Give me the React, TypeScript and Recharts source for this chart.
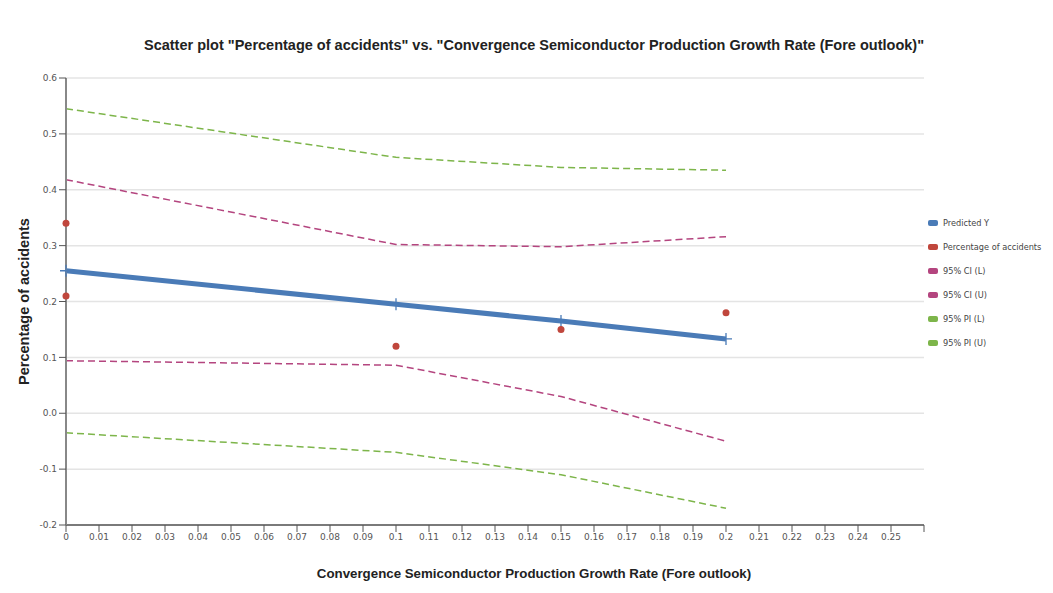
import {
  ComposedChart,
  CartesianGrid,
  Line,
  Scatter,
  XAxis,
  YAxis,
} from "recharts";

// values
const fitX = [0, 0.1, 0.15, 0.2];
const predictedY = [0.255, 0.195, 0.165, 0.133];
const ciLower = [0.094, 0.086, 0.03, -0.05];
const ciUpper = [0.418, 0.302, 0.298, 0.316];
const piLower = [-0.035, -0.07, -0.11, -0.17];
const piUpper = [0.545, 0.458, 0.44, 0.435];

const obsX = [0, 0, 0.1, 0.15, 0.2];
const obsY = [0.34, 0.21, 0.12, 0.15, 0.18];

const xTicks = [
  0, 0.01, 0.02, 0.03, 0.04, 0.05, 0.06, 0.07, 0.08, 0.09, 0.1, 0.11, 0.12,
  0.13, 0.14, 0.15, 0.16, 0.17, 0.18, 0.19, 0.2, 0.21, 0.22, 0.23, 0.24, 0.25,
  0.26,
];
const yTicks = [-0.2, -0.1, 0, 0.1, 0.2, 0.3, 0.4, 0.5, 0.6];

const BLUE = "#4a7bb7";
const RED = "#c0463c";
const CI = "#b4457f";
const PI = "#7db54a";

const toRows = (ys: number[]) => fitX.map((x, i) => ({ x, y: ys[i] }));
const obsRows = obsX.map((x, i) => ({ x, y: obsY[i] }));

const legendItems = [
  { label: "Predicted Y", color: BLUE },
  { label: "Percentage of accidents", color: RED },
  { label: "95% CI (L)", color: CI },
  { label: "95% CI (U)", color: CI },
  { label: "95% PI (L)", color: PI },
  { label: "95% PI (U)", color: PI },
];

const tickFont = {
  fontSize: 9,
  fill: "#555",
  fontFamily: "DejaVu Sans, Verdana, sans-serif",
};

const PlusDot = (props: any) => {
  const { cx, cy } = props;
  if (cx == null || cy == null) return null;
  return (
    <path
      d={`M${cx - 6},${cy}H${cx + 6}M${cx},${cy - 6}V${cy + 6}`}
      stroke={BLUE}
      strokeWidth={1.3}
      fill="none"
    />
  );
};

const LegendBox = () => (
  <div
    style={{
      position: "absolute",
      left: 928,
      top: 211,
      fontFamily: "DejaVu Sans, Verdana, sans-serif",
      fontSize: 8.2,
      color: "#444",
      whiteSpace: "nowrap",
    }}
  >
    {legendItems.map((it) => (
      <div key={it.label} style={{ display: "flex", alignItems: "center", height: 24 }}>
        <span
          style={{
            display: "inline-block",
            width: 10,
            height: 6,
            borderRadius: 2,
            background: it.color,
            marginRight: 5,
            flexShrink: 0,
          }}
        />
        {it.label}
      </div>
    ))}
  </div>
);

const dashed = (ys: number[], color: string) => (
  <Line
    data={toRows(ys)}
    dataKey="y"
    type="linear"
    stroke={color}
    strokeWidth={1.5}
    strokeDasharray="7 4"
    dot={false}
    isAnimationActive={false}
  />
);

export default function App() {
  return (
    <div style={{ position: "relative", margin: -8, width: 1053, height: 593, background: "#fff" }}>
      <div
        style={{
          position: "absolute",
          top: 37,
          left: 0,
          width: 1068,
          textAlign: "center",
          fontFamily: "Liberation Sans, Arial, sans-serif",
          fontWeight: "bold",
          fontSize: 14.5,
          color: "#222",
        }}
      >
        Scatter plot "Percentage of accidents" vs. "Convergence Semiconductor Production Growth Rate (Fore outlook)"
      </div>
      <ComposedChart
        width={1053}
        height={593}
        margin={{ top: 78, right: 129, bottom: 0, left: 0 }}
      >
        <CartesianGrid stroke="#e4e4e4" strokeWidth={1.5} vertical={false} />
        <XAxis
          type="number"
          dataKey="x"
          domain={[0, 0.26]}
          ticks={xTicks}
          interval={0}
          tick={tickFont}
          tickFormatter={(v: number) => (v === 0.26 ? "" : String(parseFloat(v.toFixed(2))))}
          tickLine={{ stroke: "#555" }}
          tickSize={7}
          axisLine={{ stroke: "#555", strokeWidth: 1.5 }}
          height={68}
          label={{
            value: "Convergence Semiconductor Production Growth Rate (Fore outlook)",
            position: "insideBottom",
            offset: 15,
            dx: 39,
            style: {
              fontFamily: "Liberation Sans, Arial, sans-serif",
              fontWeight: "bold",
              fontSize: 13.3,
              fill: "#222",
            },
          }}
        />
        <YAxis
          type="number"
          dataKey="y"
          domain={[-0.2, 0.6]}
          ticks={yTicks}
          interval={0}
          width={66}
          tick={tickFont}
          tickFormatter={(v: number) => v.toFixed(1)}
          tickLine={{ stroke: "#555" }}
          tickSize={7}
          axisLine={{ stroke: "#888", strokeWidth: 2 }}
          label={{
            value: "Percentage of accidents",
            angle: -90,
            position: "insideLeft",
            offset: 24,
            style: {
              fontFamily: "Liberation Sans, Arial, sans-serif",
              fontWeight: "bold",
              fontSize: 14.5,
              fill: "#222",
              textAnchor: "middle",
            },
          }}
        />
        {dashed(piUpper, PI)}
        {dashed(piLower, PI)}
        {dashed(ciUpper, CI)}
        {dashed(ciLower, CI)}
        <Line
          data={toRows(predictedY)}
          dataKey="y"
          type="linear"
          stroke={BLUE}
          strokeWidth={5}
          dot={<PlusDot />}
          isAnimationActive={false}
        />
        <Scatter
          data={obsRows}
          dataKey="y"
          fill={RED}
          shape={(p: any) => <circle cx={p.cx} cy={p.cy} r={3.5} fill={RED} />}
          isAnimationActive={false}
        />
      </ComposedChart>
      <LegendBox />
    </div>
  );
}
